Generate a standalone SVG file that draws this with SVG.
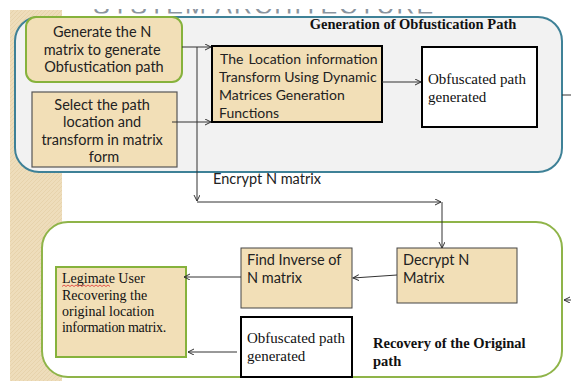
<svg xmlns="http://www.w3.org/2000/svg" width="571" height="381" viewBox="0 0 571 381">
<defs>
  <pattern id="tex" width="4" height="4" patternUnits="userSpaceOnUse">
    <rect width="4" height="4" fill="#EEDDBB"/>
    <path d="M0,4 L4,0" stroke="#E4D0A8" stroke-width="0.8"/>
  </pattern>
  <marker id="ah" markerWidth="8" markerHeight="8" refX="6" refY="3" orient="auto" markerUnits="userSpaceOnUse">
    <path d="M0,0 L6,3 L0,6" fill="none" stroke="#333" stroke-width="1"/>
  </marker>
  <clipPath id="topclip"><rect x="62" y="9" width="420" height="4.5"/></clipPath>
</defs>
<style>
  .sans { font-family: Lato, "Liberation Sans", sans-serif; font-size: 14.5px; fill: #222; }
  .serif { font-family: "Liberation Serif", serif; font-size: 15px; fill: #111; }
  .bold { font-family: "Liberation Serif", serif; font-size: 14.5px; font-weight: bold; fill: #111; }
  .beige { fill: #F2DFB7; }
  .conn { fill: none; stroke: #333; stroke-width: 1; }
</style>
<rect x="0" y="0" width="571" height="381" fill="#fff"/>
<rect x="10" y="10" width="52" height="371" fill="url(#tex)"/>
<text x="93" y="13.5" clip-path="url(#topclip)" font-family="Liberation Sans, sans-serif" font-size="25" letter-spacing="2" fill="#8A949E">SYSTEM ARCHITECTURE</text>

<g id="gen-container">
  <rect x="15" y="17" width="547" height="155" rx="24" fill="#F2F2F2" stroke="#3E8197" stroke-width="2"/>
  <text class="bold" x="413" y="29" text-anchor="middle">Generation of Obfustication Path</text>
</g>
<g id="rec-container">
  <rect x="42" y="222" width="520" height="155" rx="26" fill="#fff" stroke="#8FB449" stroke-width="2"/>
  <text class="bold" x="373" y="348">Recovery of the Original</text>
  <text class="bold" x="373" y="366">path</text>
</g>

<g id="gen-n">
  <rect x="26" y="17" width="156" height="65" rx="10" class="beige" stroke="#86B23C" stroke-width="2"/>
  <text class="sans" text-anchor="middle">
    <tspan x="104" y="37">Generate the N</tspan>
    <tspan x="104" y="55">matrix to generate</tspan>
    <tspan x="104" y="72">Obfustication path</tspan>
  </text>
</g>
<g id="select-path">
  <rect x="32" y="92" width="145" height="75" class="beige" stroke="#555" stroke-width="1.2"/>
  <text class="sans" text-anchor="middle">
    <tspan x="104" y="110">Select the path</tspan>
    <tspan x="104" y="127">location and</tspan>
    <tspan x="104" y="145">transform in matrix</tspan>
    <tspan x="104" y="162">form</tspan>
  </text>
</g>
<g id="transform">
  <rect x="212" y="46" width="170" height="76" class="beige" stroke="#000" stroke-width="2"/>
  <text class="sans" style="font-size:14px">
    <tspan x="220" y="64" word-spacing="1.5">The Location information</tspan>
    <tspan x="219" y="82">Transform Using Dynamic</tspan>
    <tspan x="219" y="100">Matrices Generation</tspan>
    <tspan x="219" y="118">Functions</tspan>
  </text>
</g>
<g id="obf-top">
  <rect x="422" y="47" width="115" height="80" fill="#fff" stroke="#000" stroke-width="2"/>
  <text class="serif">
    <tspan x="428" y="84">Obfuscated path</tspan>
    <tspan x="428" y="102">generated</tspan>
  </text>
</g>
<g id="decrypt">
  <rect x="397" y="248" width="120" height="55" class="beige" stroke="#444" stroke-width="1"/>
  <text class="sans">
    <tspan x="403" y="265">Decrypt N</tspan>
    <tspan x="403" y="283">Matrix</tspan>
  </text>
</g>
<g id="inverse">
  <rect x="241" y="248" width="111" height="60" class="beige" stroke="#444" stroke-width="1"/>
  <text class="sans">
    <tspan x="247" y="265">Find Inverse of</tspan>
    <tspan x="247" y="283">N matrix</tspan>
  </text>
</g>
<g id="obf-bottom">
  <rect x="241" y="317" width="111" height="60" fill="#fff" stroke="#000" stroke-width="2"/>
  <text class="serif">
    <tspan x="247" y="343">Obfuscated path</tspan>
    <tspan x="247" y="361">generated</tspan>
  </text>
</g>
<g id="legimate">
  <rect x="56" y="267" width="130" height="90" class="beige" stroke="#86B23C" stroke-width="2"/>
  <text class="serif" style="font-size:14px">
    <tspan x="62" y="283">Legimate User</tspan>
    <tspan x="62" y="299.5">Recovering the</tspan>
    <tspan x="62" y="316">original location</tspan>
    <tspan x="62" y="332" letter-spacing="-0.3">information matrix.</tspan>
  </text>
  <path d="M62,286.5 l2,-1.5 l2,1.5 l2,-1.5 l2,1.5 l2,-1.5 l2,1.5 l2,-1.5 l2,1.5 l2,-1.5 l2,1.5 l2,-1.5 l2,1.5 l2,-1.5 l2,1.5 l2,-1.5 l2,1.5 l2,-1.5 l2,1.5 l2,-1.5 l2,1.5 l2,-1.5 l2,1.5 l2,-1.5 l2,1.5" fill="none" stroke="#E03030" stroke-width="0.8"/>
</g>

<g id="connectors">
  <path class="conn" d="M182,47 L211,47" marker-end="url(#ah)"/>
  <path class="conn" d="M172,122 L211,122" marker-end="url(#ah)"/>
  <path class="conn" d="M382,82 L421,82" marker-end="url(#ah)"/>
  <path class="conn" d="M197,47 L197,201" marker-end="url(#ah)"/>
  <path class="conn" d="M197,202 L441,202" marker-end="url(#ah)"/>
  <path class="conn" d="M442,202 L442,248" marker-end="url(#ah)"/>
  <path class="conn" d="M562,95 L571,95"/>
  <path class="conn" d="M571,300 L564,300" marker-end="url(#ah)"/>
  <path class="conn" d="M397,275 L353,278" marker-end="url(#ah)"/>
  <path class="conn" d="M241,277 L184,277" marker-end="url(#ah)"/>
  <path class="conn" d="M237,352 L188,352" marker-end="url(#ah)"/>
  <text class="sans" x="213" y="184">Encrypt N matrix</text>
</g>
</svg>
